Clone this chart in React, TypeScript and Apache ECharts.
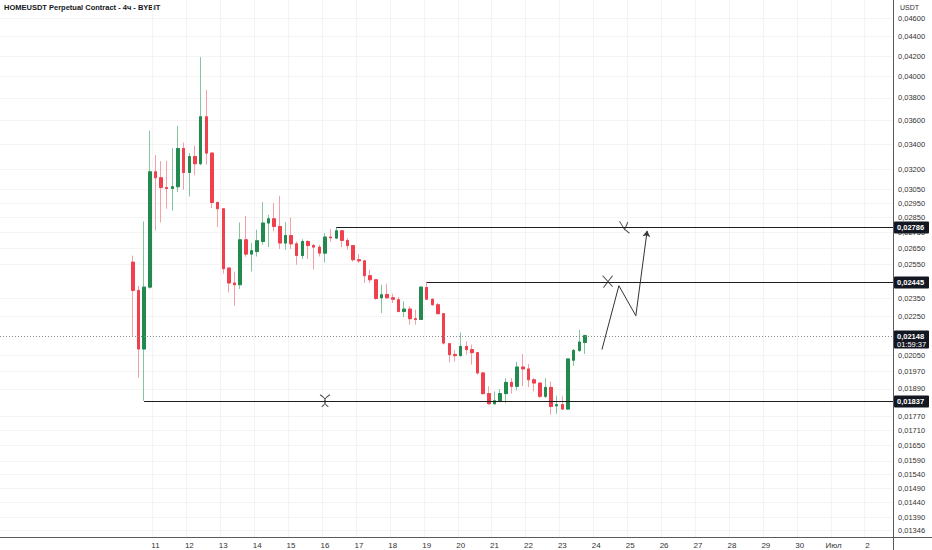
import React, { useEffect, useRef } from 'react';
import * as echarts from 'echarts';

const chartTitle = 'HOMEUSDT Perpetual Contract - 4ч - BYBIT';
const quoteUnit = 'USDT';
const firstBarUTC = Date.UTC(2025, 5, 10, 8);
const leadSlots = 23;
const totalSlots = 158;

const opens = [
  0.02562, 0.02394, 0.02080, 0.02413, 0.03182, 0.03137, 0.03064, 0.03057, 0.03070, 0.03365,
  0.03177, 0.03301, 0.03244, 0.03631, 0.03328, 0.02956, 0.02912, 0.02526, 0.02437, 0.02427,
  0.02703, 0.02612, 0.02628, 0.02692, 0.02814, 0.02843, 0.02791, 0.02682, 0.02731, 0.02677,
  0.02603, 0.02692, 0.02666, 0.02656, 0.02618, 0.02721, 0.02714, 0.02762, 0.02699, 0.02666,
  0.02577, 0.02570, 0.02480, 0.02456, 0.02352, 0.02371, 0.02352, 0.02341, 0.02276, 0.02289,
  0.02237, 0.02233, 0.02411, 0.02344, 0.02313, 0.02264, 0.02107, 0.02053, 0.02047, 0.02093,
  0.02077, 0.02062, 0.01964, 0.01869, 0.01824, 0.01834, 0.01869, 0.01920, 0.01902, 0.01992,
  0.01983, 0.01932, 0.01917, 0.01857, 0.01897, 0.01815, 0.01820, 0.01801, 0.02025, 0.02073,
  0.02113,
];
const closes = [
  0.02394, 0.02080, 0.02413, 0.03182, 0.03137, 0.03064, 0.03057, 0.03070, 0.03365, 0.03177,
  0.03301, 0.03244, 0.03631, 0.03328, 0.02956, 0.02912, 0.02522, 0.02437, 0.02427, 0.02703,
  0.02612, 0.02633, 0.02697, 0.02814, 0.02843, 0.02791, 0.02682, 0.02731, 0.02677, 0.02603,
  0.02692, 0.02666, 0.02656, 0.02618, 0.02721, 0.02716, 0.02762, 0.02699, 0.02666, 0.02577,
  0.02570, 0.02480, 0.02456, 0.02348, 0.02369, 0.02352, 0.02344, 0.02276, 0.02289, 0.02237,
  0.02233, 0.02413, 0.02344, 0.02313, 0.02264, 0.02110, 0.02052, 0.02047, 0.02093, 0.02077,
  0.02062, 0.01964, 0.01869, 0.01824, 0.01837, 0.01869, 0.01920, 0.01902, 0.01992, 0.01983,
  0.01932, 0.01917, 0.01857, 0.01897, 0.01812, 0.01820, 0.01801, 0.02031, 0.02073, 0.02115,
  0.02148,
];
const lows = [
  0.02142, 0.01942, 0.01837, 0.02404, 0.02764, 0.02818, 0.02912, 0.02900, 0.03031, 0.03048,
  0.02999, 0.03157, 0.03234, 0.03238, 0.02917, 0.02787, 0.02492, 0.02382, 0.02308, 0.02402,
  0.02595, 0.02505, 0.02597, 0.02671, 0.02656, 0.02758, 0.02644, 0.02639, 0.02644, 0.02546,
  0.02581, 0.02581, 0.02516, 0.02597, 0.02560, 0.02692, 0.02707, 0.02656, 0.02639, 0.02566,
  0.02556, 0.02437, 0.02437, 0.02341, 0.02268, 0.02348, 0.02323, 0.02271, 0.02246, 0.02205,
  0.02205, 0.02231, 0.02341, 0.02308, 0.02261, 0.02102, 0.02014, 0.02019, 0.02043, 0.02052,
  0.02003, 0.01956, 0.01864, 0.01820, 0.01820, 0.01830, 0.01827, 0.01869, 0.01883, 0.01902,
  0.01899, 0.01879, 0.01849, 0.01849, 0.01777, 0.01781, 0.01798, 0.01798, 0.01998, 0.02065,
  0.02055,
];
const highs = [
  0.02602, 0.02421, 0.02825, 0.03511, 0.03312, 0.03265, 0.03267, 0.03368, 0.03553, 0.03414,
  0.03328, 0.03389, 0.04189, 0.03873, 0.03332, 0.02963, 0.02915, 0.02530, 0.02505, 0.02818,
  0.02863, 0.02682, 0.02769, 0.02959, 0.02870, 0.02952, 0.03004, 0.02820, 0.02852, 0.02692,
  0.02707, 0.02703, 0.02677, 0.02671, 0.02747, 0.02774, 0.02786, 0.02769, 0.02714, 0.02669,
  0.02612, 0.02575, 0.02516, 0.02460, 0.02427, 0.02433, 0.02375, 0.02356, 0.02332, 0.02304,
  0.02286, 0.02417, 0.02445, 0.02347, 0.02323, 0.02268, 0.02110, 0.02073, 0.02164, 0.02118,
  0.02102, 0.02065, 0.01966, 0.01902, 0.01879, 0.01890, 0.01940, 0.01940, 0.02016, 0.02055,
  0.02007, 0.01940, 0.01919, 0.01940, 0.01924, 0.01860, 0.01857, 0.02033, 0.02080, 0.02179,
  0.02153,
];

const yTickValues = [
  0.046, 0.044, 0.042, 0.04, 0.038, 0.036, 0.034, 0.032, 0.0305, 0.0295, 0.0285, 0.0275,
  0.0265, 0.0255, 0.0235, 0.0225, 0.0205, 0.0197, 0.0189, 0.0177, 0.0171, 0.0165, 0.0159,
  0.0154, 0.0149, 0.0144, 0.0139, 0.01346,
];

const levelStartSlots = [25, 59, 75];
const levelValues = [0.01837, 0.02786, 0.02445];
const lastPrice = 0.02148;
const countdown = '01:59:37';

const arrowSlots = [106, 109, 112, 114];
const arrowValues = [0.02077, 0.02421, 0.02253, 0.02762];

const crossSlots = [57, 107, 110];
const crossValues = [0.01837, 0.02445, 0.02786];

const FONT = 'Liberation Sans, Arial, sans-serif';
const UP = '#228a4f';
const DOWN = '#f0404e';
const UP_WICK = '#86c4a0';
const DOWN_WICK = '#f4a0a7';

const categories: string[] = [];
for (let i = 0; i < totalSlots; i++) {
  const d = new Date(firstBarUTC + (i - leadSlots) * 4 * 3600 * 1000);
  const mm = String(d.getUTCMonth() + 1).padStart(2, '0');
  const dd = String(d.getUTCDate()).padStart(2, '0');
  const hh = String(d.getUTCHours()).padStart(2, '0');
  categories.push(`${mm}-${dd} ${hh}`);
}

const isDayStart = (i: number, value: string) => i >= leadSlots && value.endsWith(' 00');
const dayLabel = (value: string) => {
  const day = Number(value.slice(3, 5));
  return day === 1 ? 'Июл' : String(day);
};
const fmtPrice = (v: number) => v.toFixed(5).replace('.', ',');

export default function App() {
  const ref = useRef<HTMLDivElement>(null);
  useEffect(() => {
    document.body.style.margin = '0';
    const chart = echarts.init(ref.current!, null, { renderer: 'svg' });

    const wickData = opens.map((o, k) => [leadSlots + k, o, closes[k], lows[k], highs[k]]);
    const bodyData = opens.map((o, k) => [
      leadSlots + k,
      o,
      closes[k],
      Math.min(o, closes[k]),
      Math.max(o, closes[k]),
    ]);

    const arrowSegments = arrowSlots.slice(0, -1).map((s, i) => {
      const seg: any = {
        coords: [
          [s, arrowValues[i]],
          [arrowSlots[i + 1], arrowValues[i + 1]],
        ],
      };
      if (i === arrowSlots.length - 2) {
        seg.symbol = ['none', 'arrow'];
        seg.symbolSize = [0, 6];
      }
      return seg;
    });

    const crossPaths = [
      'path://M0,0 Q6,6 1,12 M6,0 Q0,6 5,12',
      'path://M0,0 L12,11 M12,0 L1,12',
      'path://M0,0 L6,9 L10,1 M5,8 L12,13',
    ];

    const option: any = {
      animation: false,
      backgroundColor: '#ffffff',
      grid: { left: 0, top: 0, right: 39, bottom: 13, containLabel: false, outerBoundsMode: 'none' },
      xAxis: {
        type: 'category',
        data: categories,
        boundaryGap: true,
        axisLine: { show: false },
        axisTick: { show: false, interval: isDayStart },
        axisLabel: {
          interval: isDayStart,
          formatter: dayLabel,
          fontSize: 8,
          color: '#333',
          margin: 4,
          fontFamily: FONT,
        },
        splitLine: { show: true, interval: isDayStart, lineStyle: { color: '#f4f4f4', width: 1 } },
      },
      yAxis: {
        type: 'log',
        logBase: 10,
        position: 'right',
        min: 0.01325,
        max: 0.04805,
        axisLine: { show: false },
        axisTick: { show: false, customValues: yTickValues },
        axisLabel: {
          customValues: yTickValues,
          formatter: fmtPrice,
          fontSize: 7.5,
          color: '#333',
          margin: 5,
          fontFamily: FONT,
        },
        splitLine: { show: true, lineStyle: { color: '#f4f4f4', width: 1 } },
      },
      series: [
        {
          type: 'candlestick',
          name: 'wicks',
          data: wickData,
          encode: { x: 0, y: [1, 2, 3, 4] },
          barWidth: 3,
          z: 2,
          itemStyle: {
            color: UP_WICK,
            color0: DOWN_WICK,
            borderColor: UP_WICK,
            borderColor0: DOWN_WICK,
            borderWidth: 1,
          },
        },
        {
          type: 'candlestick',
          name: 'bodies',
          data: bodyData,
          encode: { x: 0, y: [1, 2, 3, 4] },
          barWidth: 3,
          z: 3,
          itemStyle: {
            color: UP,
            color0: DOWN,
            borderColor: UP,
            borderColor0: DOWN,
            borderWidth: 1,
          },
        },
        {
          type: 'custom',
          name: 'levels',
          data: levelStartSlots.map((s, i) => [s, levelValues[i]]),
          encode: { x: 0, y: 1 },
          clip: false,
          silent: true,
          z: 5,
          renderItem: (params: any, api: any) => {
            const v = api.value(1);
            const p = api.coord([api.value(0), v]);
            const cs = params.coordSys;
            const right = cs.x + cs.width;
            const y = Math.round(p[1]) + 0.5;
            return {
              type: 'group',
              children: [
                {
                  type: 'line',
                  shape: { x1: p[0], y1: y, x2: right, y2: y },
                  style: { stroke: '#1e1e1e', lineWidth: 1 },
                },
                {
                  type: 'rect',
                  shape: { x: right + 1, y: y - 6, width: 35, height: 12, r: 1 },
                  style: { fill: '#131722' },
                },
                {
                  type: 'text',
                  style: {
                    x: right + 4,
                    y: y,
                    text: fmtPrice(v),
                    fill: '#ffffff',
                    fontSize: 7.5,
                    fontWeight: 'bold',
                    fontFamily: FONT,
                    verticalAlign: 'middle',
                  },
                },
              ],
            };
          },
        },
        {
          type: 'custom',
          name: 'lastPrice',
          data: [[totalSlots - 1, lastPrice]],
          encode: { x: 0, y: 1 },
          clip: false,
          silent: true,
          z: 4,
          renderItem: (params: any, api: any) => {
            const v = api.value(1);
            const p = api.coord([api.value(0), v]);
            const cs = params.coordSys;
            const right = cs.x + cs.width;
            const y = Math.round(p[1]) + 0.5;
            return {
              type: 'group',
              children: [
                {
                  type: 'line',
                  shape: { x1: cs.x, y1: y, x2: right, y2: y },
                  style: { stroke: '#8a8a8a', lineWidth: 1, lineDash: [1, 2] },
                },
                {
                  type: 'rect',
                  shape: { x: right + 1, y: y - 6, width: 35, height: 18, r: 1 },
                  style: { fill: '#131722' },
                },
                {
                  type: 'text',
                  style: {
                    x: right + 4,
                    y: y,
                    text: fmtPrice(v),
                    fill: '#ffffff',
                    fontSize: 7.5,
                    fontWeight: 'bold',
                    fontFamily: FONT,
                    verticalAlign: 'middle',
                  },
                },
                {
                  type: 'text',
                  style: {
                    x: right + 4,
                    y: y + 7.5,
                    text: countdown,
                    fill: '#ffffff',
                    fontSize: 7.5,
                    fontFamily: FONT,
                    verticalAlign: 'middle',
                  },
                },
              ],
            };
          },
        },
        {
          type: 'lines',
          name: 'projection',
          coordinateSystem: 'cartesian2d',
          silent: true,
          z: 6,
          symbol: 'none',
          lineStyle: { color: '#333333', width: 1, opacity: 1 },
          data: arrowSegments,
        },
        {
          type: 'scatter',
          name: 'marks',
          silent: true,
          z: 6,
          symbolSize: [10, 12],
          itemStyle: { color: 'rgba(0,0,0,0)', borderColor: '#222222', borderWidth: 1 },
          data: crossSlots.map((s, i) => ({ value: [s, crossValues[i]], symbol: crossPaths[i] })),
        },
      ],
      graphic: [
        {
          type: 'text',
          left: 4,
          top: 3,
          style: { text: chartTitle, fontSize: 7.5, fontWeight: 'bold', fill: '#131722', fontFamily: FONT },
        },
        {
          type: 'text',
          left: 900,
          top: 4,
          style: { text: quoteUnit, fontSize: 7, fill: '#333', fontFamily: FONT },
        },
        {
          type: 'line',
          shape: { x1: 893.5, y1: 0, x2: 893.5, y2: 550 },
          style: { stroke: '#5a5a5a', lineWidth: 1 },
          z: 10,
        },
        {
          type: 'line',
          shape: { x1: 0, y1: 537.5, x2: 932, y2: 537.5 },
          style: { stroke: '#5a5a5a', lineWidth: 1 },
          z: 10,
        },
      ],
    };

    chart.setOption(option);
    return () => chart.dispose();
  }, []);

  return <div ref={ref} style={{ width: 932, height: 550, background: '#fff' }} />;
}
